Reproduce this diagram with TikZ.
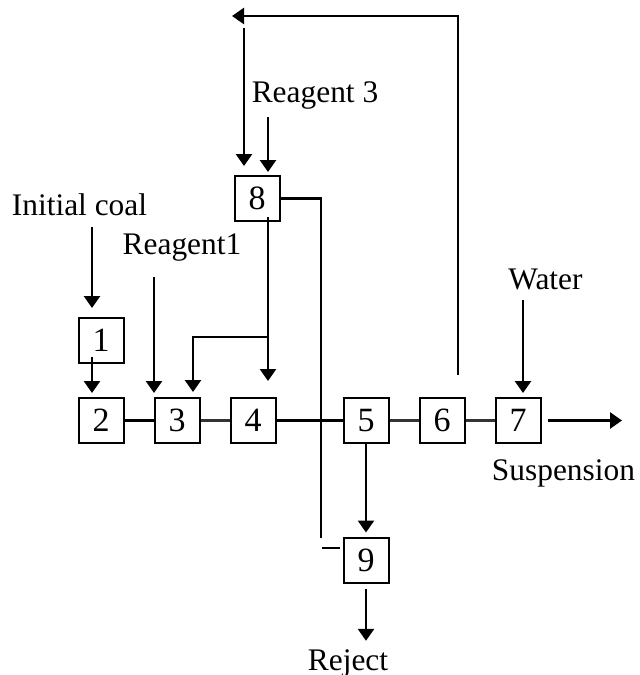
\documentclass[tikz,border=0pt]{standalone}
\usepackage{fontspec}
\setmainfont{Liberation Serif}
\usetikzlibrary{arrows.meta,positioning,calc}
\tikzset{
  unit/.style={draw,line width=1pt,minimum width=22.5pt,minimum height=22.5pt,
    inner sep=0pt,font=\fontsize{17}{18}\selectfont},
  tag/.style={anchor=base,inner sep=0pt,font=\fontsize{15.7}{18}\selectfont},
  flow/.style={line width=1.3pt},
  link/.style={line width=1.1pt,black!80},
  feed/.style={-{Triangle[length=6pt,width=8pt]},line width=1.3pt}
}

\begin{document}
\begin{tikzpicture}[x=0.5pt,y=-0.5pt,node distance=14.5pt]
  \useasboundingbox (0,0) rectangle (639,675);
  % process units
  \node[unit] (n2) at (101,420.5) {2};
  \node[unit,right=of n2] (n3) {3};
  \node[unit,right=of n3] (n4) {4};
  \node[unit,right=33pt of n4] (n5) {5};
  \node[unit,right=of n5] (n6) {6};
  \node[unit,right=of n6] (n7) {7};
  \node[unit,above=16.5pt of n2] (n1) {1};
  \node[unit,above=87.5pt of n4,xshift=2pt] (n8) {8};
  \node[unit,below=46.25pt of n5] (n9) {9};
  % labels
  \node[tag] (coal) at (79.5,215) {Initial coal};
  \node[tag] (rg1) at (182,254) {Reagent1};
  \node[tag] (rg3) at (315,102) {Reagent 3};
  \node[tag] (water) at (545.5,289) {Water};
  \node[tag] (susp) at (563.5,480) {Suspension};
  \node[tag] (rej) at (348,670) {Reject};
  % free ends
  \coordinate (c1) at (92,227);
  \coordinate (c2) at (154,277);
  \coordinate (c3) at (622,417);
  \coordinate (c4) at (523,300);
  \coordinate (c5) at (458,375);
  \coordinate (c6) at (232,16);
  \coordinate (c7) at (244,28);
  \coordinate (c8) at (268,117);
  \coordinate (c9) at (268,337);
  \coordinate (c10) at (321,538);
  % feeds
  \draw[feed,shorten >=4.5pt] (c1) -- (c1 |- n1.north);
  \draw[feed,shorten >=2pt] ([xshift=-4.5pt,yshift=-8pt]n1.center) -- ([xshift=-4.5pt]n2.north);
  \draw[feed,shorten >=2pt] (c2) -- (c2 |- n3.north);
  \draw[feed,shorten >=2pt] (c4) -- (c4 |- n7.north);
  \draw[feed,shorten >=4.5pt] (c7) -- (c7 |- n8.north);
  \draw[feed,shorten >=1.5pt] (c8) -- (c8 |- n8.north);
  % main line
  \draw[flow] (n2.east) -- (n3.west);
  \draw[link] (n3.east) -- (n4.west);
  \draw[flow] (n4.east) -- (n5.west);
  \draw[link] (n5.east) -- (n6.west);
  \draw[link] (n6.east) -- (n7.west);
  \draw[feed,shorten <=3pt] (n7.east) -- (n7.east -| c3);
  % recycle
  \draw[feed] (c5) |- (c6);
  \draw[feed,shorten >=8pt] ([yshift=2.5pt]c8 |- n8.south) -- (c8 |- n4.north);
  \draw[feed,shorten >=2.5pt] (c9) -| ([xshift=8pt]n3.north);
  \draw[flow] (n8.east) -| (c10);
  \draw[flow] ([xshift=-10.5pt,yshift=6pt]n9.west) -- ([xshift=-1.5pt,yshift=6pt]n9.west);
  % reject
  \draw[feed,shorten >=2pt] (n5.south) -- (n9.north);
  \draw[feed,shorten <=2.5pt,shorten >=4pt] (n9.south) -- (n9.south |- rej.north);
\end{tikzpicture}
\end{document}
